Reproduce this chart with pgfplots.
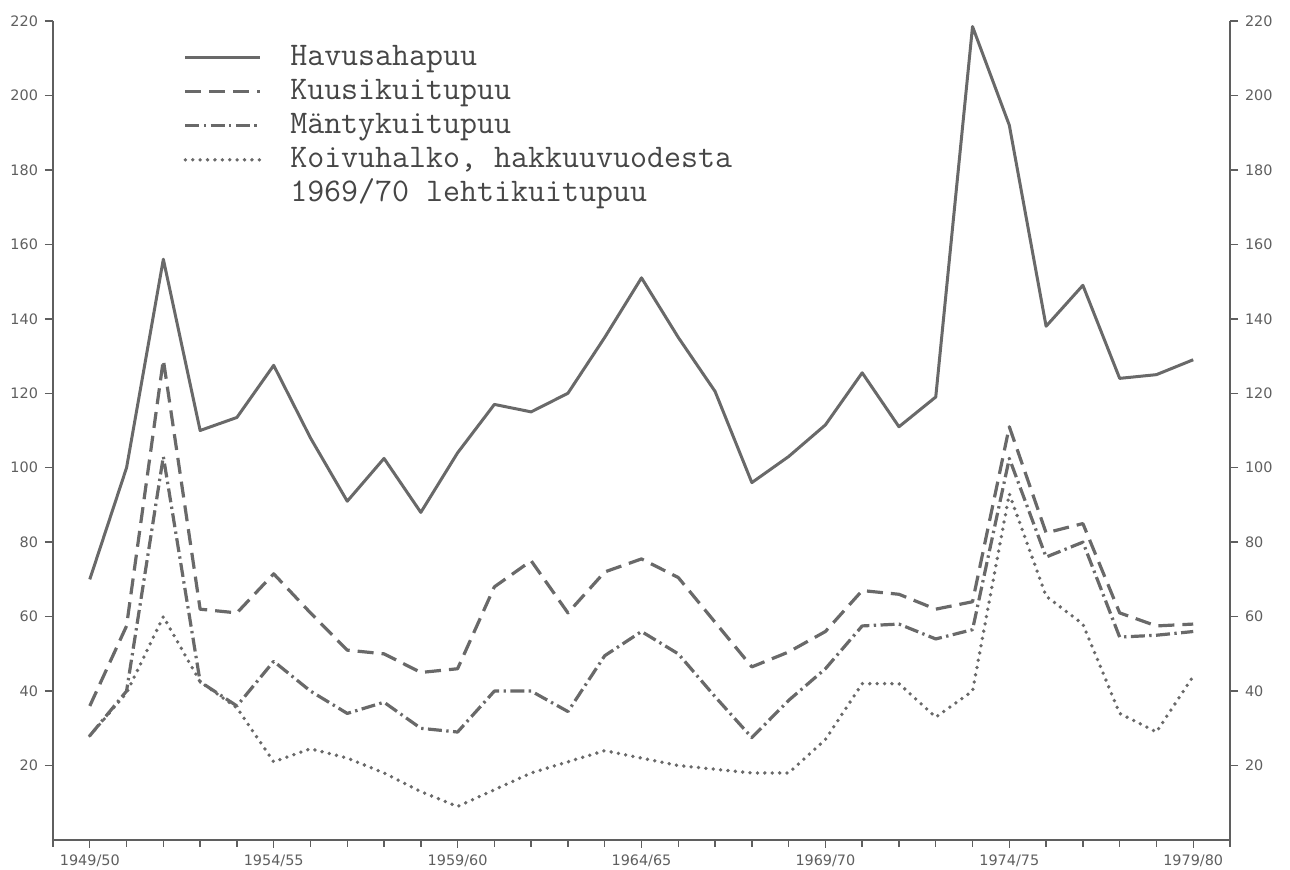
\documentclass[border=0pt]{standalone}
\usepackage{fontspec}
\setsansfont{DejaVu Sans}
\usepackage{pgfplots}
\pgfplotsset{compat=1.18}
\definecolor{ln}{RGB}{105,105,105}
\definecolor{ax}{RGB}{95,95,95}
\definecolor{tx}{RGB}{70,70,70}
\pgfplotsset{
  common/.style={
    at={(0,0)}, anchor=south west,
    scale only axis, width=588.5pt, height=409.5pt,
    xmin=-1, xmax=31, ymin=0, ymax=220,
    ytick={20,40,...,220},
    tick align=outside,
    major tick length=4pt, minor tick length=3.5pt,
    tick style={ax, line width=0.7pt},
    axis line style={ax, line width=0.7pt},
    ticklabel style={font=\sffamily\fontsize{7.2}{8}\selectfont, text=ax},
    /pgf/number format/assume math mode=true,
  }
}
\begin{document}
\begin{tikzpicture}
\path[use as bounding box] (-26.5pt,-15pt) rectangle (618.5pt,420pt);
\begin{axis}[
  common,
  axis x line*=bottom, axis y line*=left,
  xtick={0,5,...,30},
  xticklabels={1949/50,1954/55,1959/60,1964/65,1969/70,1974/75,1979/80},
  minor xtick={-1,0,...,31},
  legend image code/.code={\draw[#1] (0pt,0pt) -- (37.5pt,0pt);},
  legend style={draw=none, fill=none, at={(0.1105,0.972)}, anchor=north west,
    inner sep=0pt, font=\ttfamily\fontsize{16.5}{18}\selectfont,
    row sep=3.5pt, column sep=14pt,
    nodes={inner sep=0pt, text height=10.5pt, text depth=3pt, text=tx}},
  legend cell align=left,
]
\addplot[ln, line width=1.5pt, line join=round] coordinates {
(0,70) (1,100) (2,156) (3,110) (4,113.5) (5,127.5) (6,108) (7,91) (8,102.5) (9,88)
(10,104) (11,117) (12,115) (13,120) (14,135) (15,151) (16,135) (17,120.5) (18,96) (19,103)
(20,111.5) (21,125.5) (22,111) (23,119) (24,218.5) (25,192) (26,138) (27,149) (28,124) (29,125) (30,129)};
\addlegendentry{Havusahapuu}
\addplot[ln, line width=1.6pt, line join=round, dash pattern=on 8pt off 4pt] coordinates {
(0,36) (1,57.5) (2,129) (3,62) (4,61) (5,71.5) (6,61) (7,51) (8,50) (9,45)
(10,46) (11,68) (12,75) (13,61) (14,72) (15,75.5) (16,70.5) (17,58.5) (18,46.5) (19,50.5)
(20,56) (21,67) (22,66) (23,62) (24,64) (25,111) (26,82.5) (27,85) (28,61) (29,57.5) (30,58)};
\addlegendentry{Kuusikuitupuu}
\addplot[ln, line width=1.6pt, line join=round, dash pattern=on 7pt off 2.2pt on 1.2pt off 2.2pt] coordinates {
(0,28) (1,40) (2,103) (3,42.5) (4,36) (5,48) (6,40) (7,34) (8,37) (9,30)
(10,29) (11,40) (12,40) (13,34.5) (14,49.5) (15,56) (16,50) (17,38.5) (18,27.5) (19,37.5)
(20,46) (21,57.5) (22,58) (23,54) (24,56.5) (25,102.5) (26,76) (27,80) (28,54.5) (29,55) (30,56)};
\addlegendentry{Mäntykuitupuu}
\addplot[ln, line width=1.9pt, line cap=round, dash pattern=on 0pt off 3.7pt] coordinates {
(0,28) (1,39.5) (2,60) (3,42.5) (4,35.5) (5,21) (6,24.5) (7,22) (8,18) (9,13)
(10,9) (11,13.5) (12,18) (13,21) (14,24) (15,22) (16,20) (17,19) (18,18) (19,18)
(20,27) (21,42) (22,42) (23,33) (24,40) (25,93) (26,65.5) (27,58) (28,34) (29,29) (30,44)};
\addlegendentry{Koivuhalko, hakkuuvuodesta}
\addlegendimage{empty legend}
\addlegendentry{1969/70 lehtikuitupuu}
\end{axis}
\begin{axis}[
  common,
  hide x axis,
  axis y line*=right,
]
\end{axis}
\end{tikzpicture}
\end{document}
